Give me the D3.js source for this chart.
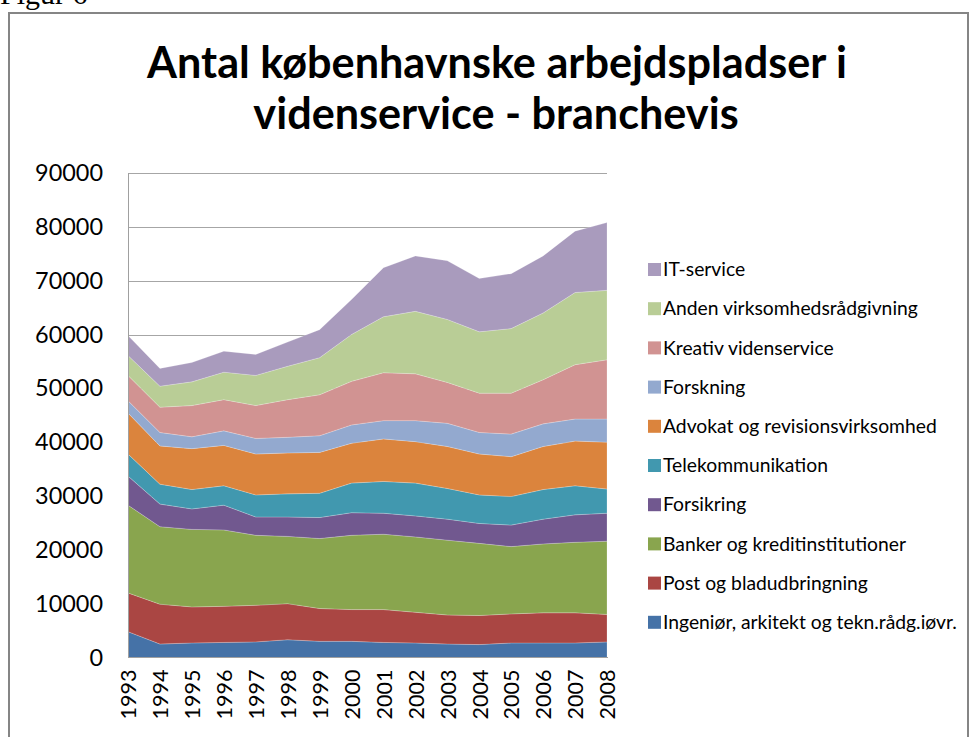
<!DOCTYPE html>
<html>
<head>
<meta charset="utf-8">
<script src="https://cdn.jsdelivr.net/npm/d3@7"></script>
<style>
  html, body { margin: 0; padding: 0; background: #fff; }
  svg { display: block; }
</style>
</head>
<body>
<svg id="chart" width="972" height="737"></svg>
<script>
// ---- DATA ----
const years = ["1993","1994","1995","1996","1997","1998","1999","2000","2001","2002","2003","2004","2005","2006","2007","2008"];
const seriesNames = [
  "Ingeniør, arkitekt og tekn.rådg.iøvr.",
  "Post og bladudbringning",
  "Banker og kreditinstitutioner",
  "Forsikring",
  "Telekommunikation",
  "Advokat og revisionsvirksomhed",
  "Forskning",
  "Kreativ videnservice",
  "Anden virksomhedsrådgivning",
  "IT-service"
];
const ingenior   = [4800,2500,2700,2800,2900,3300,3000,3000,2800,2700,2500,2400,2700,2700,2700,2900];
const post       = [7200,7400,6700,6700,6800,6700,6100,5900,6100,5700,5400,5400,5400,5600,5600,5100];
const banker     = [16300,14400,14400,14200,13000,12500,13000,13800,14000,14000,13900,13400,12500,12800,13100,13600];
const forsikring = [5400,4200,3800,4600,3400,3600,3900,4200,3900,3900,3900,3700,4000,4600,5100,5200];
const telekom    = [4100,3700,3600,3600,4100,4300,4500,5500,5900,6100,5700,5300,5300,5500,5400,4500];
const advokat    = [7600,7100,7600,7500,7600,7600,7600,7400,7900,7700,7800,7600,7400,8000,8300,8700];
const forskning  = [2300,2500,2200,2700,2900,2900,3100,3400,3400,3900,4300,4000,4200,4200,4100,4300];
const kreativ    = [4700,4700,5800,5800,6100,7000,7600,8100,8900,8700,7600,7300,7600,8200,10100,11000];
const anden      = [3700,3900,4400,5100,5600,6200,6900,8700,10400,11600,11700,11400,12000,12400,13400,12900];
const itService  = [3700,3300,3600,3900,3900,4500,5200,6500,9100,10300,10900,9900,10200,10600,11400,12600];
const seriesValues = [ingenior, post, banker, forsikring, telekom, advokat, forskning, kreativ, anden, itService];
const colors = ["#4572A7","#AA4643","#89A54E","#71588F","#4198AF","#DB843D","#93A9CF","#D19392","#B9CD96","#A99BBD"];
const yTicks = [0,10000,20000,30000,40000,50000,60000,70000,80000,90000];
const titleLines = ["Antal københavnske arbejdspladser i", "videnservice - branchevis"];
const figLabel = "Figur 6";

// ---- BUILD TABLE ----
const table = years.map((yr, i) => {
  const row = { year: yr };
  seriesNames.forEach((n, k) => row[n] = seriesValues[k][i]);
  return row;
});

const svg = d3.select("#chart");
const FONT = "Lato, 'Open Sans', sans-serif";

function fitWidth(sel, target) {
  sel.style("font-size", "100px");
  const w = sel.node().getComputedTextLength();
  sel.style("font-size", (100 * target / w) + "px");
}

svg.append("rect").attr("width", 972).attr("height", 737).attr("fill", "#fff");

// Figure label (cut off at top)
svg.append("text").attr("x", 0).attr("y", 4)
  .attr("font-family", "'Liberation Serif', 'Times New Roman', serif")
  .attr("font-size", 30).attr("fill", "#000").text(figLabel);

// Chart border
svg.append("rect").attr("x", 9).attr("y", 13).attr("width", 959).attr("height", 740)
  .attr("fill", "none").attr("stroke", "#858585").attr("stroke-width", 2);

// Title
const t1 = svg.append("text").attr("x", 497).attr("y", 78).attr("text-anchor", "middle")
  .attr("font-family", FONT).attr("font-weight", "bold").attr("fill", "#000").text(titleLines[0]);
fitWidth(t1, 700);
const t1size = parseFloat(t1.style("font-size"));
svg.append("text").attr("x", 496).attr("y", 129).attr("text-anchor", "middle")
  .attr("font-family", FONT).attr("font-weight", "bold").attr("fill", "#000")
  .style("font-size", t1size + "px").text(titleLines[1]);

// Scales
const x = d3.scalePoint().domain(years).range([128, 607]).padding(0);
const y = d3.scaleLinear().domain([0, 90000]).range([657.5, 173]);

// Gridlines
svg.append("g").selectAll("line").data(yTicks.slice(1)).join("line")
  .attr("x1", 128).attr("x2", 607)
  .attr("y1", d => Math.round(y(d)) + 0.5).attr("y2", d => Math.round(y(d)) + 0.5)
  .attr("stroke", "#a6a6a6").attr("stroke-width", 1);

// Stacked areas
const stack = d3.stack().keys(seriesNames);
const layers = stack(table);
const area = d3.area()
  .x(d => x(d.data.year))
  .y0(d => y(d[0]))
  .y1(d => y(d[1]));
svg.append("g").selectAll("path").data(layers).join("path")
  .attr("d", area)
  .attr("fill", (d, i) => colors[i])
  .attr("stroke", "#ffffff").attr("stroke-opacity", 0.35).attr("stroke-width", 0.6);

// Axis lines
svg.append("line").attr("x1", 128.5).attr("x2", 128.5).attr("y1", 173).attr("y2", 658)
  .attr("stroke", "#a0a0a0").attr("stroke-width", 1);
svg.append("line").attr("x1", 128).attr("x2", 608).attr("y1", 657.5).attr("y2", 657.5)
  .attr("stroke", "#a0a0a0").attr("stroke-width", 1);

// Y axis labels
const yAxis = d3.axisLeft(y).tickValues(yTicks).tickFormat(d3.format("d")).tickSize(0).tickPadding(25);
const gy = svg.append("g").attr("transform", "translate(128,0)").call(yAxis);
gy.select(".domain").remove();
gy.selectAll("text").attr("font-family", FONT).attr("fill", "#000");
const probeY = gy.selectAll("text").filter(d => d === 90000);
fitWidth(probeY, 68);
const ySize = probeY.style("font-size");
gy.selectAll("text").style("font-size", ySize);

// X axis labels
const xAxis = d3.axisBottom(x).tickSize(0).tickPadding(0);
const gx = svg.append("g").attr("transform", "translate(0,657.5)").call(xAxis);
gx.select(".domain").remove();
gx.selectAll("text")
  .attr("font-family", FONT).attr("fill", "#000")
  .attr("text-anchor", "end")
  .attr("transform", "translate(0,12) rotate(-90)")
  .attr("x", 0).attr("y", 0).attr("dy", "0.36em");
const probeX = gx.selectAll("text").filter(d => d === "1993");
fitWidth(probeX, 50);
gx.selectAll("text").style("font-size", probeX.style("font-size"));

// Legend
const legendOrder = seriesNames.map((n, i) => ({ name: n, color: colors[i] })).reverse();
const lg = svg.append("g");
const rows = lg.selectAll("g").data(legendOrder).join("g")
  .attr("transform", (d, i) => `translate(648,${269.5 + i * 39.2})`);
rows.append("rect").attr("x", 0).attr("y", -6.5).attr("width", 13).attr("height", 13)
  .attr("fill", d => d.color);
rows.append("text").attr("x", 15).attr("y", 0).attr("dy", "0.35em")
  .attr("font-family", FONT).attr("fill", "#000").text(d => d.name);
const probeL = rows.selectAll("text").filter(d => d.name === "Advokat og revisionsvirksomhed");
fitWidth(probeL, 274);
rows.selectAll("text").style("font-size", probeL.style("font-size"));
</script>
</body>
</html>
